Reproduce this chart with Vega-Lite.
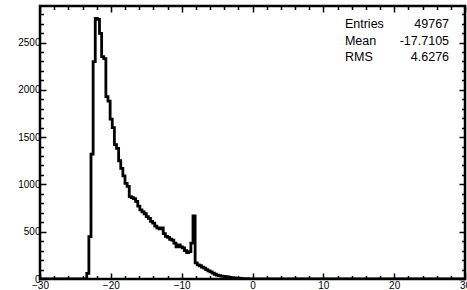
{
  "$schema": "https://vega.github.io/schema/vega-lite/v6.json",
  "width": 425,
  "height": 273,
  "autosize": {"type": "none"},
  "padding": {"left": 40, "top": 6, "right": 2, "bottom": 11},
  "background": "white",
  "config": {
    "view": {"stroke": "black", "strokeWidth": 2.5},
    "axis": {"grid": false, "domain": false, "labelFont": "Liberation Sans", "labelColor": "black", "title": null, "tickColor": "black", "tickWidth": 1.5}
  },
  "datasets": {
    "hist": [
      {"x": -30, "n": 0},
      {"x": -23.4, "n": 60},
      {"x": -23.1, "n": 447},
      {"x": -22.8, "n": 1321},
      {"x": -22.5, "n": 2297},
      {"x": -22.2, "n": 2756},
      {"x": -21.9, "n": 2745},
      {"x": -21.6, "n": 2597},
      {"x": -21.3, "n": 2350},
      {"x": -21.0, "n": 2330},
      {"x": -20.7, "n": 1927},
      {"x": -20.4, "n": 1880},
      {"x": -20.1, "n": 1690},
      {"x": -19.8, "n": 1600},
      {"x": -19.5, "n": 1420},
      {"x": -19.2, "n": 1380},
      {"x": -18.9, "n": 1250},
      {"x": -18.6, "n": 1170},
      {"x": -18.3, "n": 1090},
      {"x": -18.0, "n": 1010},
      {"x": -17.7, "n": 980},
      {"x": -17.4, "n": 870},
      {"x": -17.1, "n": 860},
      {"x": -16.8, "n": 850},
      {"x": -16.5, "n": 820},
      {"x": -16.2, "n": 770},
      {"x": -15.9, "n": 730},
      {"x": -15.6, "n": 710},
      {"x": -15.3, "n": 690},
      {"x": -15.0, "n": 660},
      {"x": -14.7, "n": 640},
      {"x": -14.4, "n": 610},
      {"x": -14.1, "n": 590},
      {"x": -13.8, "n": 560},
      {"x": -13.5, "n": 540},
      {"x": -13.2, "n": 530},
      {"x": -12.9, "n": 540},
      {"x": -12.6, "n": 480},
      {"x": -12.3, "n": 450},
      {"x": -12.0, "n": 440},
      {"x": -11.7, "n": 420},
      {"x": -11.4, "n": 410},
      {"x": -11.1, "n": 380},
      {"x": -10.8, "n": 340},
      {"x": -10.5, "n": 360},
      {"x": -10.2, "n": 340},
      {"x": -9.9, "n": 330},
      {"x": -9.6, "n": 300},
      {"x": -9.3, "n": 280},
      {"x": -9.0, "n": 290},
      {"x": -8.7, "n": 380},
      {"x": -8.4, "n": 666},
      {"x": -8.1, "n": 170},
      {"x": -7.8, "n": 150},
      {"x": -7.5, "n": 140},
      {"x": -7.2, "n": 125},
      {"x": -6.9, "n": 115},
      {"x": -6.6, "n": 100},
      {"x": -6.3, "n": 85},
      {"x": -6.0, "n": 75},
      {"x": -5.7, "n": 62},
      {"x": -5.4, "n": 50},
      {"x": -5.1, "n": 42},
      {"x": -4.8, "n": 35},
      {"x": -4.5, "n": 30},
      {"x": -4.2, "n": 27},
      {"x": -3.9, "n": 24},
      {"x": -3.6, "n": 22},
      {"x": -3.3, "n": 18},
      {"x": -3.0, "n": 15},
      {"x": -2.7, "n": 12},
      {"x": -2.4, "n": 10},
      {"x": -2.1, "n": 8},
      {"x": -1.8, "n": 6},
      {"x": -1.5, "n": 5},
      {"x": -1.2, "n": 4},
      {"x": -0.9, "n": 3},
      {"x": -0.6, "n": 2},
      {"x": -0.3, "n": 1},
      {"x": 0.0, "n": 1},
      {"x": 0.3, "n": 0},
      {"x": 30, "n": 0}
    ],
    "stats": [
      {"k": "Entries", "v": "49767"},
      {"k": "Mean", "v": "-17.7105"},
      {"k": "RMS", "v": "4.6276"}
    ]
  },
  "layer": [
    {
      "data": {"name": "hist"},
      "mark": {"type": "line", "interpolate": "step-after", "color": "black", "strokeWidth": 2.8, "clip": true},
      "encoding": {
        "x": {"field": "x", "type": "quantitative", "scale": {"domain": [-30, 30], "nice": false, "zero": false},
          "axis": {"orient": "bottom", "values": [-30, -20, -10, 0, 10, 20, 30], "format": "d", "ticks": false, "labelFontSize": 10, "labelPadding": 1, "labelOverlap": false, "labelBound": false, "labelFlush": false}},
        "y": {"field": "n", "type": "quantitative", "scale": {"domain": [0, 2886], "nice": false, "zero": false},
          "axis": {"orient": "left", "values": [0, 500, 1000, 1500, 2000, 2500], "format": "d", "ticks": false, "labelFontSize": 10, "labelPadding": 0, "labelOverlap": false, "labelBound": false, "labelFlush": false}}
      }
    },
    {
      "data": {"name": "hist"},
      "mark": {"type": "point", "opacity": 0},
      "encoding": {
        "x": {"field": "x", "type": "quantitative", "scale": {"domain": [-30, 30], "nice": false, "zero": false},
          "axis": {"orient": "bottom", "offset": -6, "tickSize": 6, "labels": false, "values": [-30, -20, -10, 0, 10, 20, 30]}},
        "y": {"field": "n", "type": "quantitative", "scale": {"domain": [0, 2886], "nice": false, "zero": false},
          "axis": {"orient": "left", "offset": -6, "tickSize": 6, "labels": false, "values": [0, 500, 1000, 1500, 2000, 2500]}}
      }
    },
    {
      "data": {"name": "hist"},
      "mark": {"type": "point", "opacity": 0},
      "encoding": {
        "x": {"field": "x", "type": "quantitative", "scale": {"domain": [-30, 30], "nice": false, "zero": false},
          "axis": {"orient": "bottom", "offset": -3.5, "tickSize": 3.5, "labels": false, "values": [-28, -26, -24, -22, -18, -16, -14, -12, -8, -6, -4, -2, 2, 4, 6, 8, 12, 14, 16, 18, 22, 24, 26, 28]}},
        "y": {"field": "n", "type": "quantitative", "scale": {"domain": [0, 2886], "nice": false, "zero": false},
          "axis": {"orient": "left", "offset": -3.5, "tickSize": 3.5, "labels": false, "values": [100, 200, 300, 400, 600, 700, 800, 900, 1100, 1200, 1300, 1400, 1600, 1700, 1800, 1900, 2100, 2200, 2300, 2400, 2600, 2700, 2800]}}
      }
    },
    {
      "data": {"name": "hist"},
      "mark": {"type": "point", "opacity": 0},
      "encoding": {
        "x": {"field": "x", "type": "quantitative", "scale": {"domain": [-30, 30], "nice": false, "zero": false},
          "axis": {"orient": "top", "offset": -6, "tickSize": 6, "labels": false, "values": [-30, -20, -10, 0, 10, 20, 30]}},
        "y": {"field": "n", "type": "quantitative", "scale": {"domain": [0, 2886], "nice": false, "zero": false},
          "axis": {"orient": "right", "offset": -6, "tickSize": 6, "labels": false, "values": [0, 500, 1000, 1500, 2000, 2500]}}
      }
    },
    {
      "data": {"name": "hist"},
      "mark": {"type": "point", "opacity": 0},
      "encoding": {
        "x": {"field": "x", "type": "quantitative", "scale": {"domain": [-30, 30], "nice": false, "zero": false},
          "axis": {"orient": "top", "offset": -3.5, "tickSize": 3.5, "labels": false, "values": [-28, -26, -24, -22, -18, -16, -14, -12, -8, -6, -4, -2, 2, 4, 6, 8, 12, 14, 16, 18, 22, 24, 26, 28]}},
        "y": {"field": "n", "type": "quantitative", "scale": {"domain": [0, 2886], "nice": false, "zero": false},
          "axis": {"orient": "right", "offset": -3.5, "tickSize": 3.5, "labels": false, "values": [100, 200, 300, 400, 600, 700, 800, 900, 1100, 1200, 1300, 1400, 1600, 1700, 1800, 1900, 2100, 2200, 2300, 2400, 2600, 2700, 2800]}}
      }
    },
    {
      "data": {"name": "stats"},
      "mark": {"type": "text", "align": "left", "baseline": "middle", "font": "Liberation Sans", "fontSize": 12.5, "color": "black"},
      "encoding": {
        "x": {"datum": 13.05, "type": "quantitative", "scale": {"domain": [-30, 30], "nice": false, "zero": false}, "axis": null},
        "y": {"field": "k", "type": "nominal", "sort": null, "scale": {"type": "point", "domain": ["Entries", "Mean", "RMS"], "range": [18, 51], "padding": 0}, "axis": null},
        "text": {"field": "k"}
      }
    },
    {
      "data": {"name": "stats"},
      "mark": {"type": "text", "align": "right", "baseline": "middle", "font": "Liberation Sans", "fontSize": 12.5, "color": "black"},
      "encoding": {
        "x": {"datum": 27.75, "type": "quantitative", "scale": {"domain": [-30, 30], "nice": false, "zero": false}, "axis": null},
        "y": {"field": "k", "type": "nominal", "sort": null, "scale": {"type": "point", "domain": ["Entries", "Mean", "RMS"], "range": [18, 51], "padding": 0}, "axis": null},
        "text": {"field": "v"}
      }
    }
  ],
  "resolve": {"scale": {"y": "independent"}, "axis": {"x": "independent", "y": "independent"}}
}
